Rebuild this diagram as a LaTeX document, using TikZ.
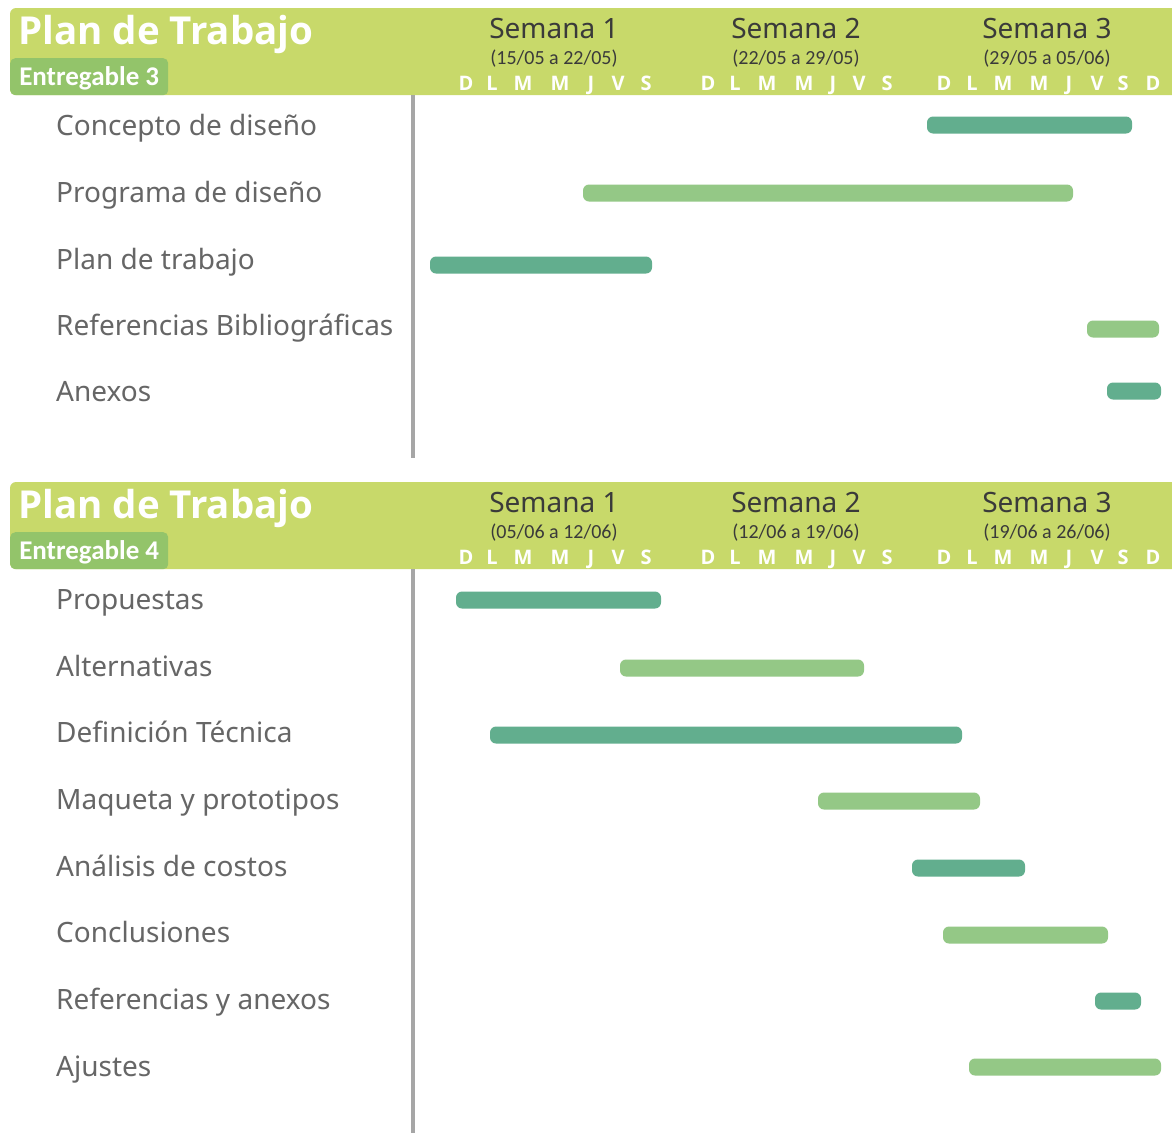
\documentclass[tikz,border=0pt]{standalone}
\usepackage{fontspec}
\setmainfont{Noto Sans}
\newfontfamily\calibrifont{Carlito}
\newfontfamily\headfont{Open Sans}
\usetikzlibrary{positioning}
\definecolor{headgreen}{RGB}{200,217,106}
\definecolor{tabgreen}{RGB}{147,196,106}
\definecolor{bardark}{RGB}{98,174,142}
\definecolor{barlight}{RGB}{148,200,134}
\definecolor{labelgray}{RGB}{102,102,102}
\definecolor{weekgray}{RGB}{58,58,58}
\definecolor{dividergray}{RGB}{166,166,166}
\tikzset{
  plantitle/.style={anchor=base west,inner sep=0pt,text=white,font=\headfont\bfseries\fontsize{38.5}{38.5}\selectfont},
  tabbox/.style={fill=tabgreen,rounded corners=5pt,anchor=north west,minimum width=158pt,minimum height=37pt,inner sep=0pt,text height=17pt,text depth=0pt,text=white,font=\calibrifont\bfseries\fontsize{27}{27}\selectfont},
  weektitle/.style={anchor=base,inner sep=0pt,text=weekgray,font=\fontsize{28}{28}\selectfont},
  weekdates/.style={anchor=base,inner sep=0pt,text=weekgray,font=\calibrifont\fontsize{20}{20}\selectfont},
  dayletter/.style={anchor=base,inner sep=0pt,text=white,font=\headfont\bfseries\fontsize{20}{20}\selectfont},
  tasklabel/.style={anchor=base west,inner sep=0pt,text=labelgray,font=\fontsize{28}{28}\selectfont},
  darkbar/.style={fill=bardark,rounded corners=6pt},
  lightbar/.style={fill=barlight,rounded corners=6pt},
  divider/.style={draw=dividergray,line width=4pt},
}
% header of one block: #1 shift, #2 entregable, #3-#5 dates of the weeks
\newcommand{\planheader}[5]{%
  \begin{scope}[yshift=-#1pt]
    \fill[headgreen,rounded corners=6pt] (10,8) rectangle (1190,95);
    \node[plantitle] (title#2) at (18,44) {Plan de Trabajo};
    \node[tabbox] (tab#2) at (10,58) {Entregable #2};
    \node[weektitle] (semA#2) at (554,38) {Semana 1};
    \node[weektitle] (semB#2) at (796,38) {Semana 2};
    \node[weektitle] (semC#2) at (1047,38) {Semana 3};
    \node[weekdates] (datA#2) at (554,64) {#3};
    \node[weekdates] (datB#2) at (796,64) {#4};
    \node[weekdates] (datC#2) at (1047,64) {#5};
    \foreach \x/\l [count=\i] in {466/D,492/L,523/M,560/M,591/J,618/V,646/S,
        708/D,735/L,767/M,804/M,833/J,859/V,887/S,
        944/D,972/L,1003/M,1039/M,1069/J,1097/V,1123/S,1153/D}
      \node[dayletter] (day#2-\i) at (\x,90) {\l};
  \end{scope}
}
% one bar: style, start, end, middle
\newcommand{\taskbar}[4]{\path[#1] (#2,#4-8.5) rectangle (#3,#4+8.5);}

\begin{document}
\begin{tikzpicture}[x=1pt,y=-1pt]
\useasboundingbox (0,0) rectangle (1172,1133);
\fill[white] (0,0) rectangle (1172,1133);

% Entregable 3
\planheader{0}{3}{(15/05 a 22/05)}{(22/05 a 29/05)}{(29/05 a 05/06)}
\draw[divider] (413,95) -- (413,458);
\node[tasklabel] (concepto) at (56,135) {Concepto de diseño};
\node[tasklabel] (programa) at (56,202) {Programa de diseño};
\node[tasklabel] (plan) at (56,269) {Plan de trabajo};
\node[tasklabel] (refbib) at (56,335) {Referencias Bibliográficas};
\node[tasklabel] (anexos) at (56,401) {Anexos};
\taskbar{darkbar}{927}{1132}{125}
\taskbar{lightbar}{583}{1073}{193}
\taskbar{darkbar}{430}{652}{265}
\taskbar{lightbar}{1087}{1159}{329}
\taskbar{darkbar}{1107}{1161}{391}

% Entregable 4
\planheader{474}{4}{(05/06 a 12/06)}{(12/06 a 19/06)}{(19/06 a 26/06)}
\draw[divider] (413,569) -- (413,1133);
\node[tasklabel] (propuestas) at (56,609) {Propuestas};
\node[tasklabel] (alternativas) at (56,676) {Alternativas};
\node[tasklabel] (definicion) at (56,742) {Definición Técnica};
\node[tasklabel] (maqueta) at (56,809) {Maqueta y prototipos};
\node[tasklabel] (costos) at (56,876) {Análisis de costos};
\node[tasklabel] (conclusiones) at (56,942) {Conclusiones};
\node[tasklabel] (refanexos) at (56,1009) {Referencias y anexos};
\node[tasklabel] (ajustes) at (56,1076) {Ajustes};
\taskbar{darkbar}{456}{661}{600}
\taskbar{lightbar}{620}{864}{668}
\taskbar{darkbar}{490}{962}{735}
\taskbar{lightbar}{818}{980}{801}
\taskbar{darkbar}{912}{1025}{868}
\taskbar{lightbar}{943}{1108}{935}
\taskbar{darkbar}{1095}{1141}{1001}
\taskbar{lightbar}{969}{1161}{1067}

\end{tikzpicture}
\end{document}
